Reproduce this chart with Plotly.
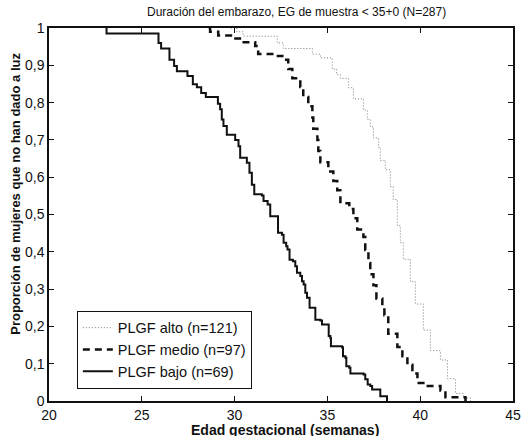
import plotly.graph_objects as go

# --- Data (Kaplan-Meier style step curves) ---
alto_weeks = [29.8, 30.12, 30.46, 32.30, 32.62, 34.19, 34.62, 35.26, 35.50, 35.70, 36.13, 36.40,
              36.94, 37.15, 37.31, 37.48, 37.75, 37.85, 38.12, 38.39, 38.55, 38.77, 38.93, 39.09,
              39.47, 39.74, 40.17, 40.55, 41.09, 41.47, 41.90, 42.33, 42.71]
alto_prop = [1.0, 0.99, 0.978, 0.96, 0.945, 0.93, 0.92, 0.89, 0.875, 0.865, 0.84, 0.81,
             0.78, 0.755, 0.735, 0.705, 0.68, 0.645, 0.62, 0.575, 0.54, 0.47, 0.425, 0.38,
             0.32, 0.26, 0.19, 0.135, 0.11, 0.06, 0.02, 0.008, 0.0]

medio_weeks = [28.6, 28.68, 29.12, 29.87, 30.41, 31.11, 31.27, 32.03, 32.57, 32.89, 33.11, 33.54,
               33.70, 33.97, 34.19, 34.24, 34.46, 34.51, 34.62, 35.05, 35.32, 35.53, 35.70, 36.18,
               36.40, 36.61, 36.94, 37.04, 37.21, 37.31, 37.48, 37.64, 37.96, 38.07, 38.28, 38.77,
               39.04, 39.31, 39.58, 39.85, 40.17, 41.09, 41.36, 42.44]
medio_prop = [1.0, 0.99, 0.98, 0.972, 0.962, 0.952, 0.93, 0.925, 0.915, 0.89, 0.865, 0.842,
              0.815, 0.79, 0.76, 0.73, 0.70, 0.67, 0.64, 0.615, 0.59, 0.565, 0.53, 0.515,
              0.49, 0.46, 0.44, 0.405, 0.37, 0.34, 0.31, 0.275, 0.255, 0.23, 0.18, 0.145,
              0.12, 0.097, 0.074, 0.048, 0.04, 0.028, 0.0103, 0.0]

bajo_weeks = [23.1, 23.1, 25.9, 26.04, 26.49, 26.74, 26.89, 27.46, 27.75, 27.97, 28.2, 28.45,
              29.1, 29.22, 29.31, 29.40, 29.58, 30.03, 30.21, 30.30, 30.66, 30.80, 30.93, 31.06,
              31.47, 31.56, 31.78, 31.92, 32.34, 32.55, 32.64, 32.78, 32.85, 32.96, 33.14, 33.27,
              33.36, 33.54, 33.63, 33.72, 33.81, 33.90, 34.04, 34.35, 34.62, 34.71, 35.07, 35.16,
              35.19, 35.79, 35.84, 35.97, 36.02, 36.18, 36.24, 36.95, 37.04, 37.17, 37.31, 37.41,
              37.85, 38.21]
bajo_prop = [1.0, 0.985, 0.960, 0.945, 0.915, 0.898, 0.884, 0.871, 0.849, 0.841, 0.826, 0.815,
             0.797, 0.782, 0.755, 0.737, 0.714, 0.700, 0.683, 0.652, 0.639, 0.612, 0.580, 0.554,
             0.551, 0.536, 0.527, 0.495, 0.451, 0.446, 0.424, 0.415, 0.406, 0.379, 0.375, 0.361,
             0.344, 0.335, 0.321, 0.312, 0.290, 0.277, 0.250, 0.218, 0.216, 0.205, 0.174, 0.169,
             0.147, 0.144, 0.120, 0.116, 0.093, 0.089, 0.074, 0.071, 0.058, 0.044, 0.040, 0.031,
             0.013, 0.0]

series_names = ["PLGF alto (n=121)", "PLGF medio (n=97)", "PLGF bajo (n=69)"]

x_ticks = [20, 25, 30, 35, 40, 45]
y_ticks = [0, 0.1, 0.2, 0.3, 0.4, 0.5, 0.6, 0.7, 0.8, 0.9, 1]
y_ticklabels = ["0", "0,1", "0,2", "0,3", "0,4", "0,5", "0,6", "0,7", "0,8", "0,9", "1"]

title_text = "Duración del embarazo, EG de muestra < 35+0 (N=287)"
x_title = "Edad gestacional (semanas)"
y_title = "Proporción de mujeres que no han dado a luz"

FONT = "Liberation Sans, Arial, Helvetica, sans-serif"

fig = go.Figure()
fig.add_trace(go.Scatter(x=alto_weeks, y=alto_prop, mode="lines", name=series_names[0],
                         line=dict(shape="hv", color="#7a7a7a", width=1, dash="1px,2px")))
fig.add_trace(go.Scatter(x=medio_weeks, y=medio_prop, mode="lines", name=series_names[1],
                         line=dict(shape="hv", color="#111111", width=2.5, dash="7px,5px")))
fig.add_trace(go.Scatter(x=bajo_weeks, y=bajo_prop, mode="lines", name=series_names[2],
                         line=dict(shape="hv", color="#111111", width=2)))

fig.update_layout(
    width=524, height=436,
    margin=dict(l=49, r=11, t=28, b=35, autoexpand=False),
    paper_bgcolor="white", plot_bgcolor="white",
    font=dict(family=FONT, color="#111111"),
    showlegend=True,
    legend=dict(x=0.06, y=0.242, xanchor="left", yanchor="top",
                bgcolor="white", bordercolor="#111111", borderwidth=1,
                font=dict(size=14.5, family=FONT, color="#111111"),
                tracegroupgap=0, itemwidth=30),
    xaxis=dict(range=[20, 45], tickvals=x_ticks, ticks="inside", ticklen=5,
               tickcolor="#111111", showline=True, linecolor="#111111", linewidth=1.5,
               mirror="ticks", showgrid=False, zeroline=False, automargin=False,
               tickfont=dict(size=14, family=FONT, color="#111111")),
    yaxis=dict(range=[0, 1], tickvals=y_ticks, ticktext=y_ticklabels, ticks="inside",
               ticklen=5, tickcolor="#111111", showline=True, linecolor="#111111",
               linewidth=1.5, mirror="ticks", showgrid=False, zeroline=False, automargin=False,
               tickfont=dict(size=14, family=FONT, color="#111111")),
    annotations=[
        dict(text=title_text, xref="paper", yref="paper", x=0.534, y=1.0416,
             xanchor="center", yanchor="middle", showarrow=False,
             font=dict(size=12, family=FONT, color="#111111")),
        dict(text="<b>" + x_title + "</b>", xref="paper", yref="paper", x=0.509, y=-0.079,
             xanchor="center", yanchor="middle", showarrow=False,
             font=dict(size=14, family=FONT, color="#111111")),
        dict(text="<b>" + y_title + "</b>", xref="paper", yref="paper", x=-0.073, y=0.556,
             xanchor="center", yanchor="middle", showarrow=False, textangle=-90,
             font=dict(size=13, family=FONT, color="#111111")),
    ],
)

fig.write_html("out.html", config={"displayModeBar": False},
               post_script="document.body.style.margin='0px';document.body.style.overflow='hidden';")
